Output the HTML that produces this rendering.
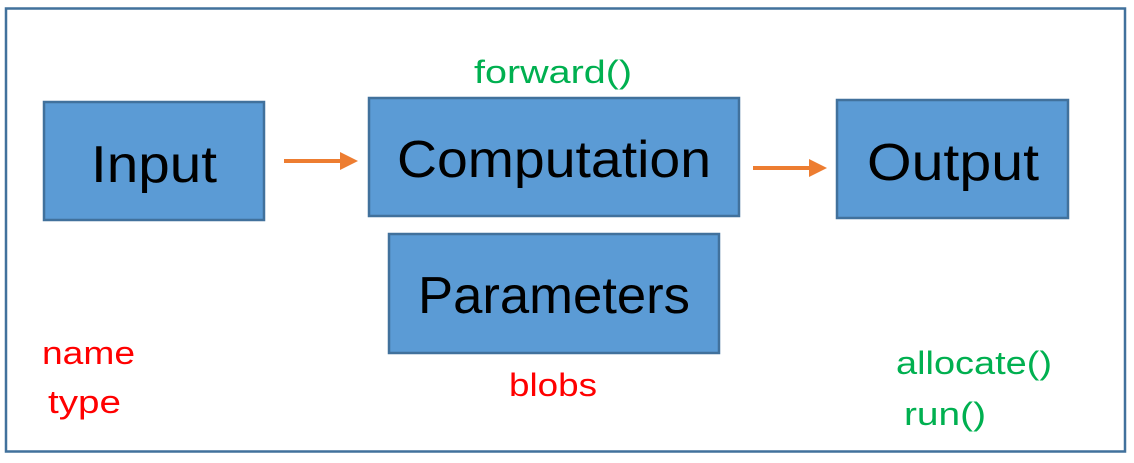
<!DOCTYPE html>
<html><head><meta charset="utf-8"><style>
html,body{margin:0;padding:0;background:#fff;width:1134px;height:463px;overflow:hidden}
svg{display:block}
text{font-family:"Liberation Sans",sans-serif}
</style></head><body>
<svg width="1134" height="463" viewBox="0 0 1134 463">
<rect x="6" y="8.5" width="1119" height="443" fill="#fff" stroke="#41719c" stroke-width="2.5"/>
<g fill="#5b9bd5" stroke="#41719c" stroke-width="2.5">
<rect x="44" y="102" width="220" height="118"/>
<rect x="369" y="98" width="370" height="118"/>
<rect x="837" y="100" width="231" height="118"/>
<rect x="389" y="234" width="330" height="119"/>
</g>
<g fill="#000" font-size="52">
<text x="91" y="182" textLength="126" lengthAdjust="spacingAndGlyphs">Input</text>
<text x="397" y="177" textLength="314" lengthAdjust="spacingAndGlyphs">Computation</text>
<text x="867" y="180" textLength="172" lengthAdjust="spacingAndGlyphs">Output</text>
<text x="418" y="313" textLength="272" lengthAdjust="spacingAndGlyphs">Parameters</text>
</g>
<g stroke="#ed7d31" stroke-width="4"><line x1="284" y1="161" x2="345" y2="161"/><line x1="753" y1="168" x2="815" y2="168"/></g>
<g fill="#ed7d31"><polygon points="340,152 358,161 340,170"/><polygon points="809,159 827,168 809,177"/></g>
<g fill="#00b050" font-size="32">
<text x="474" y="83" textLength="158" lengthAdjust="spacingAndGlyphs">forward()</text>
<text x="896" y="374" textLength="156" lengthAdjust="spacingAndGlyphs">allocate()</text>
<text x="904" y="425" textLength="82" lengthAdjust="spacingAndGlyphs">run()</text>
</g>
<g fill="#ff0000" font-size="32">
<text x="42" y="364" textLength="93" lengthAdjust="spacingAndGlyphs">name</text>
<text x="48" y="413" textLength="73" lengthAdjust="spacingAndGlyphs">type</text>
<text x="509" y="396" textLength="88" lengthAdjust="spacingAndGlyphs">blobs</text>
</g>
</svg>
</body></html>
